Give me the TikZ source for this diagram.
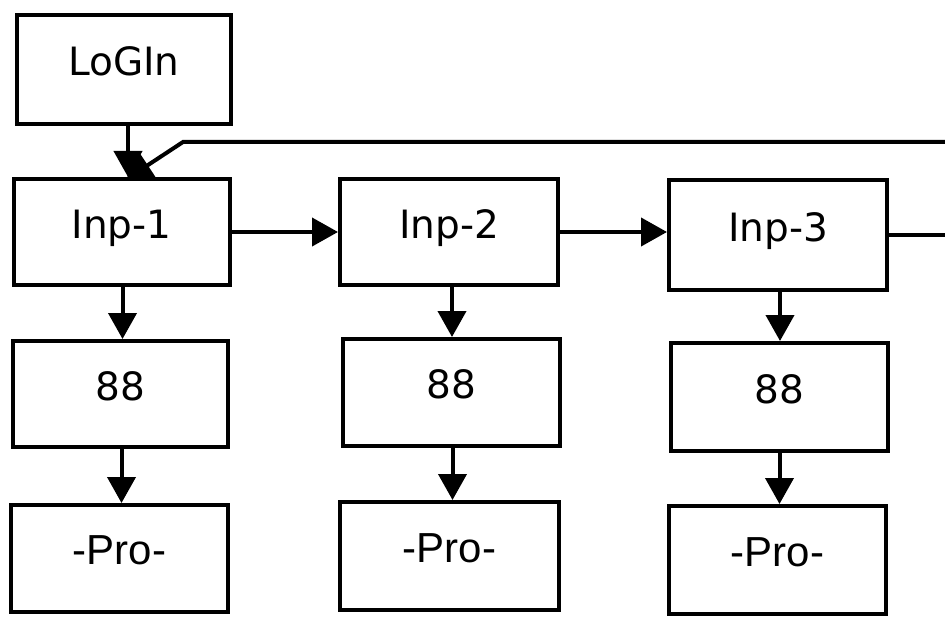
\documentclass[tikz,border=0pt]{standalone}
\usepackage{fontspec}
\setmainfont{DejaVu Sans}
\newfontfamily\arialf{Liberation Sans}
\usetikzlibrary{arrows.meta}
\begin{document}
\begin{tikzpicture}[x=1pt,y=-1pt,
  box/.style={draw,line width=4pt,inner sep=0pt,minimum width=216pt,minimum height=107pt,
    font=\fontsize{39}{40}\selectfont,text height=28pt,text depth=16pt},
  probox/.style={box,font=\arialf\fontsize{42}{44}\selectfont,text height=30pt,text depth=18pt},
  arr/.style={line width=4pt,-{Triangle[length=26pt,width=28pt]}},
  ln/.style={line width=4pt}]
\useasboundingbox (0,0) rectangle (945,623);
% boxes
\node[box,minimum width=214pt,minimum height=109pt] (login) at (124,69.5) {LoGIn};
\node[box,minimum height=106pt] (in1) at (121.5,232) {Inp-1};
\node[box,minimum width=218pt,minimum height=106pt] (in2) at (449,232) {Inp-2};
\node[box,minimum width=218pt,minimum height=110pt] (in3) at (778,235) {Inp-3};
\node[box,minimum width=215pt,minimum height=106pt] (e1) at (120.5,394) {88};
\node[box,minimum width=217pt] (e2) at (451.5,392.5) {88};
\node[box,minimum width=217pt,minimum height=108pt] (e3) at (779.5,397) {88};
\node[probox,minimum width=217pt] (p1) at (119.5,558.5) {-Pro-};
\node[probox,minimum width=219pt,minimum height=108pt] (p2) at (449.5,556) {-Pro-};
\node[probox,minimum width=217pt,minimum height=108pt] (p3) at (777.5,560) {-Pro-};
% coordinates
\coordinate (fbR) at (945,142);
\coordinate (fbK) at (183,142);
\coordinate (out3) at (945,235);
% vertical arrows
\draw[arr] ([xshift=4pt]login.south) -- ([xshift=4pt]login.south |- in1.north);
\draw[arr] ([xshift=1pt]in1.south) -- ([xshift=1pt]in1.south |- e1.north);
\draw[arr] ([xshift=1pt]e1.south) -- ([xshift=1pt]e1.south |- p1.north);
\draw[arr] ([xshift=3pt]in2.south) -- ([xshift=3pt]in2.south |- e2.north);
\draw[arr] ([xshift=1pt]e2.south) -- ([xshift=1pt]e2.south |- p2.north);
\draw[arr] ([xshift=2pt]in3.south) -- ([xshift=2pt]in3.south |- e3.north);
\draw[arr] (e3.south) -- (e3.south |- p3.north);
% horizontal arrows
\draw[arr] (in1.east) -- (in1.east -| in2.west);
\draw[arr] (in2.east) -- (in2.east -| in3.west);
\draw[ln] (in3.east) -- (out3);
% feedback
\draw[arr] (fbR) -- (fbK) -- ([shift={(4.5pt,-2.5pt)}]in1.north);
\end{tikzpicture}
\end{document}
